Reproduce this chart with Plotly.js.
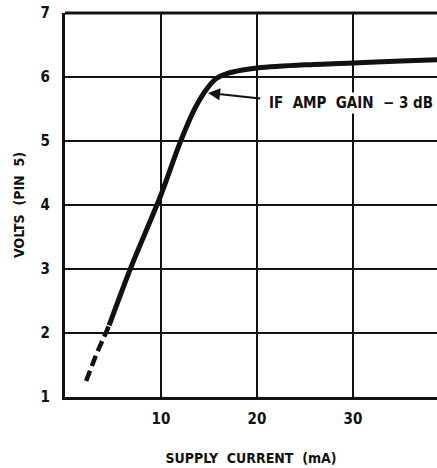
<!DOCTYPE html>
<html><head><meta charset="utf-8">
<script src="https://cdn.plot.ly/plotly-3.0.1.min.js"></script>
<style>body{margin:0;background:#fff}#c{width:437px;height:468px}</style>
</head><body><div id="c"></div>
<script>
const dashX = [2.2, 3.3, 4.6];
const dashY = [1.25, 1.68, 2.12];
const solidX = [4.6, 6.8, 10, 12, 13.5, 14.8, 15.8, 17, 18.5, 20, 25, 30, 35, 38.8];
const solidY = [2.12, 3.0, 4.16, 4.98, 5.5, 5.82, 5.98, 6.06, 6.11, 6.14, 6.19, 6.22, 6.25, 6.27];
const xTicks = [10, 20, 30];
const yTicks = [1, 2, 3, 4, 5, 6, 7];
const noteText = "IF  AMP  GAIN  \u2212 3 dB";
const fam = "DejaVu Sans Condensed, DejaVu Sans, Liberation Sans";
const fnt = {family: fam, color: "#111", size: 15, weight: 700};
const fntT = {family: fam, color: "#111", size: 14, weight: 700};

const traces = [
  {x: dashX, y: dashY, mode: "lines", line: {color: "#111", width: 4.5, dash: "11px,5px"}, hoverinfo: "skip"},
  {x: solidX, y: solidY, mode: "lines", line: {color: "#111", width: 5, shape: "spline", smoothing: 0.8}, hoverinfo: "skip"}
];
const layout = {
  width: 437, height: 468,
  margin: {l: 65, r: 0, t: 13, b: 71},
  paper_bgcolor: "#fff", plot_bgcolor: "#fff",
  showlegend: false,
  font: fnt,
  xaxis: {range: [0, 38.75], tickvals: xTicks, ticktext: xTicks.map(String),
    showgrid: true, gridcolor: "#111", gridwidth: 2, zeroline: false,
    showline: true, linecolor: "#111", linewidth: 3, mirror: false,
    ticks: "", ticklabelstandoff: 6, tickfont: fnt,
    title: {text: "SUPPLY  CURRENT  (mA)", font: fntT, standoff: 27}},
  yaxis: {range: [1, 7], tickvals: yTicks, ticktext: yTicks.map(String),
    showgrid: true, gridcolor: "#111", gridwidth: 2, zeroline: false,
    showline: true, linecolor: "#111", linewidth: 3,
    ticks: "", ticklabelstandoff: 9, tickfont: fnt,
    title: {text: "VOLTS  (PIN  5)", font: fntT, standoff: 13}},
  shapes: [
    {type: "line", xref: "paper", yref: "paper", x0: 0, x1: 1, y0: 1, y1: 1, line: {color: "#111", width: 3}}
  ],
  annotations: [
    {x: 14.9, y: 5.75, ax: 20.5, ay: 5.66, axref: "x", ayref: "y", xref: "x", yref: "y",
     showarrow: true, arrowhead: 2, arrowsize: 1.2, arrowwidth: 2, arrowcolor: "#111", text: ""},
    {x: 21.0, y: 5.6, xref: "x", yref: "y", xanchor: "left", yanchor: "middle", showarrow: false,
     text: noteText, font: fnt, bgcolor: "#fff"}
  ]
};
Plotly.newPlot("c", traces, layout, {displayModeBar: false, staticPlot: true});
</script></body></html>
